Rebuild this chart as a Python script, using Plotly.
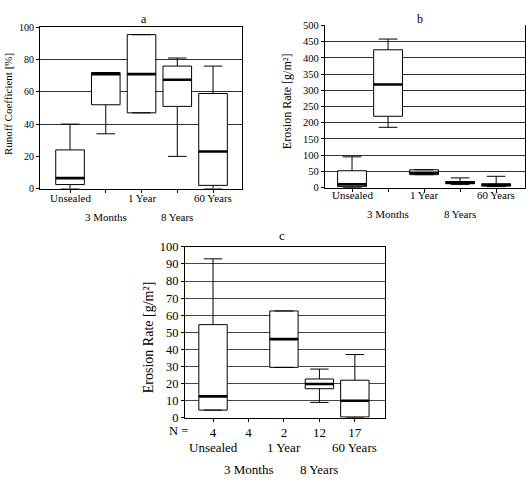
import plotly.graph_objects as go

W, H = 526, 485
FONT = "Liberation Serif"

categories = ["Unsealed", "3 Months", "1 Year", "8 Years", "60 Years"]

# Panel a: Runoff coefficient [%]
a_low = [0, 34, 47, 20, 0]
a_q1 = [2.5, 52, 47, 51, 2]
a_med = [6.5, 71, 71, 67.5, 23]
a_q3 = [24, 72, 95.5, 76, 59]
a_high = [40, 72, 95.5, 81, 76]
a_ticks = [0, 20, 40, 60, 80, 100]
a_grid = [40, 60, 80, 100]

# Panel b: Erosion rate [g/m²]
b_low = [0, 186, 40, 10, 3]
b_q1 = [3, 220, 40, 12, 5]
b_med = [10, 318, 46, 15, 8]
b_q3 = [52, 425, 55, 19, 12]
b_high = [95, 458, 55, 30, 35]
b_ticks = [0, 50, 100, 150, 200, 250, 300, 350, 400, 450, 500]
b_grid = [50, 100, 150, 200, 250, 300, 350, 400, 450]

# Panel c: Erosion rate [g/m²] with N
c_low = [4.5, None, 29.5, 9, 0]
c_q1 = [4.5, None, 29.5, 17, 0.5]
c_med = [12.5, None, 46, 19.8, 10]
c_q3 = [54.5, None, 62.5, 22.7, 22]
c_high = [93, None, 62.5, 28.5, 37]
c_n = [4, 4, 2, 12, 17]
c_ticks = [0, 10, 20, 30, 40, 50, 60, 70, 80, 90, 100]
c_grid = [10, 20, 30, 40, 50, 60, 70, 80, 90, 100]


def px_x(p):
    return p / W


def px_y(p):
    return 1 - p / H


panels = [
    dict(low=a_low, q1=a_q1, med=a_med, q3=a_q3, high=a_high,
         ticks=a_ticks, grid=a_grid, yrange=[0, 100],
         xdom=[px_x(40), px_x(242)], ydom=[px_y(187), px_y(21)],
         xrange=[-0.84, 4.81], tfont=10, xfont=10, xmirror=True,
         gridcolor="#333", ticktext=["", "", "", "", ""]),
    dict(low=b_low, q1=b_q1, med=b_med, q3=b_q3, high=b_high,
         ticks=b_ticks, grid=b_grid, yrange=[0, 500],
         xdom=[px_x(325), px_x(525)], ydom=[px_y(186), px_y(19)],
         xrange=[-0.75, 4.8], tfont=10.5, xfont=10, xmirror=False,
         gridcolor="#333", ticktext=["", "", "", "", ""]),
    dict(low=c_low, q1=c_q1, med=c_med, q3=c_q3, high=c_high,
         ticks=c_ticks, grid=c_grid, yrange=[0, 100],
         xdom=[px_x(185), px_x(385)], ydom=[px_y(423), px_y(247)],
         xrange=[-0.79, 4.85], tfont=12.5, xfont=13, xmirror=True,
         gridcolor="#444", ticktext=[str(n) for n in c_n]),
]

fig = go.Figure()
layout = {}

for k, p in enumerate(panels, start=1):
    xa = "x" if k == 1 else f"x{k}"
    ya = "y" if k == 1 else f"y{k}"
    yg = f"y{k + 3}"
    # empty trace so the grid-only overlay axis gets drawn
    fig.add_trace(go.Scatter(x=[None], y=[None], mode="lines",
                             showlegend=False, hoverinfo="skip",
                             xaxis=xa, yaxis=yg))
    idx = [i for i in range(len(categories)) if p["med"][i] is not None]
    fig.add_trace(go.Box(
        x=idx,
        q1=[p["q1"][i] for i in idx],
        median=[p["med"][i] for i in idx],
        q3=[p["q3"][i] for i in idx],
        lowerfence=[p["low"][i] for i in idx],
        upperfence=[p["high"][i] for i in idx],
        width=0.8, whiskerwidth=0.65,
        fillcolor="white", line=dict(color="black", width=1),
        boxpoints=False, showlegend=False,
        xaxis=xa, yaxis=ya,
    ))
    mx, my = [], []
    for i in idx:
        mx += [i - 0.4, i + 0.4, None]
        my += [p["med"][i], p["med"][i], None]
    fig.add_trace(go.Scatter(
        x=mx, y=my, mode="lines", line=dict(color="black", width=2.6),
        showlegend=False, hoverinfo="skip", xaxis=xa, yaxis=ya,
    ))

    xname = "xaxis" if k == 1 else f"xaxis{k}"
    yname = "yaxis" if k == 1 else f"yaxis{k}"
    layout[xname] = dict(
        domain=p["xdom"], anchor=ya, range=p["xrange"],
        tickvals=list(range(len(categories))), ticktext=p["ticktext"],
        ticks="outside", ticklen=3, tickcolor="black",
        showline=True, linecolor="black", linewidth=1.2, mirror=p["xmirror"],
        showgrid=False, zeroline=False,
        tickfont=dict(family=FONT, size=p["xfont"], color="black"),
    )
    layout[yname] = dict(
        domain=p["ydom"], anchor=xa, range=p["yrange"],
        tickvals=p["ticks"],
        ticks="outside", ticklen=3, tickcolor="black",
        showline=True, linecolor="black", linewidth=1.2, mirror=True,
        showgrid=False, zeroline=False,
        tickfont=dict(family=FONT, size=p["tfont"], color="black"),
    )
    layout[f"yaxis{k + 3}"] = dict(
        overlaying=ya, anchor=xa, side="right", range=p["yrange"],
        domain=p["ydom"],
        tickvals=p["grid"], showticklabels=False, ticks="",
        showgrid=True, gridcolor=p["gridcolor"], gridwidth=1,
        showline=False, zeroline=False,
    )

annotations = []


def ann(text, x, y, size, xref="paper", angle=0):
    annotations.append(dict(
        text=text, x=x, y=y, xref=xref, yref="paper", showarrow=False,
        xanchor="center", yanchor="middle", textangle=angle,
        font=dict(family=FONT, size=size, color="black"),
    ))


# panel letters
ann("a", px_x(144), px_y(12), 12)
ann("b", px_x(420), px_y(12), 12)
ann("c", px_x(282), px_y(235), 13)

# axis titles
ann("Runoff Coefficient [%]", px_x(8), px_y(100), 11, angle=-90)
ann("Erosion Rate [g/m²]", px_x(287), px_y(97), 12, angle=-90)
ann("Erosion Rate [g/m²]", px_x(148), px_y(340), 14, angle=-90)

# staggered category labels
rows = [
    ("x", 197, 216, 11),
    ("x2", 194, 213, 11),
    ("x3", 454, 476, 13),
]
for xa, r1, r2, size in rows:
    for i, name in enumerate(categories):
        ann(name, i, px_y(r1 if i % 2 == 0 else r2), size, xref=xa)

ann("N =", px_x(178), px_y(437), 12.5)

fig.update_layout(
    width=W, height=H, margin=dict(l=0, r=0, t=0, b=0),
    paper_bgcolor="white", plot_bgcolor="white",
    showlegend=False, hovermode=False,
    font=dict(family=FONT, color="black"),
    annotations=annotations,
    **layout,
)

fig.write_html("out.html")
